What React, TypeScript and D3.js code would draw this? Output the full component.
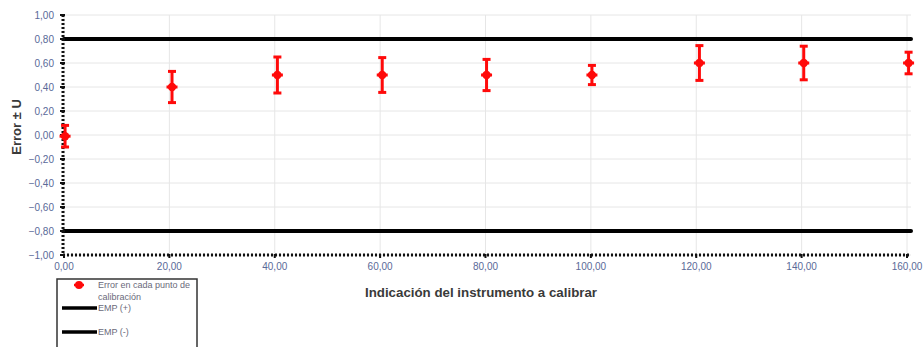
import React from "react";
import * as d3 from "d3";

// Calibration points: instrument reading, error and expanded uncertainty
const readings = [0.2, 20.5, 40.5, 60.4, 80.2, 100.2, 120.6, 140.4, 160.3];
const errors = [-0.01, 0.4, 0.5, 0.5, 0.5, 0.5, 0.6, 0.6, 0.6];
const uncertainties = [0.09, 0.13, 0.15, 0.145, 0.13, 0.08, 0.145, 0.14, 0.09];

// Maximum permissible error limits
const empPlus = 0.8;
const empMinus = -0.8;

const xTicks = [0, 20, 40, 60, 80, 100, 120, 140, 160];
const yTicks = [-1, -0.8, -0.6, -0.4, -0.2, 0, 0.2, 0.4, 0.6, 0.8, 1];

const legendLabels = ["Error en cada punto de", "calibración", "EMP (+)", "EMP (-)"];

const W = 924;
const H = 347;
const left = 64;
const right = 907;
const top = 15;
const bottom = 255;

const fmt = (v: number) => d3.format(".2f")(v).replace(".", ",");

export default function App() {
  const x = d3.scaleLinear().domain([0, 160]).range([left, right]);
  const y = d3.scaleLinear().domain([-1, 1]).range([bottom, top]);
  const red = "#ff0a0a";
  const tickColor = "#5a6a98";
  const font = "'Liberation Sans', Arial, sans-serif";
  const gridRight = 911;

  return (
    <svg
      width={W}
      height={H}
      style={{ position: "absolute", left: 0, top: 0, background: "#fff" }}
      fontFamily={font}
    >
      {/* grid */}
      {yTicks.map((t) => (
        <line key={"gy" + t} x1={left} x2={gridRight} y1={y(t)} y2={y(t)} stroke="#e6e6e6" strokeWidth={1} />
      ))}
      {xTicks.map((t) => (
        <line key={"gx" + t} x1={x(t)} x2={x(t)} y1={top} y2={bottom} stroke="#e6e6e6" strokeWidth={1} />
      ))}

      {/* EMP limits */}
      {[empPlus, empMinus].map((v) => (
        <line key={"emp" + v} x1={left} x2={gridRight} y1={y(v)} y2={y(v)} stroke="#000" strokeWidth={4} strokeLinecap="round" />
      ))}

      {/* dotted axes */}
      <line x1={left - 1} x2={left - 1} y1={top} y2={bottom} stroke="#111" strokeWidth={3} strokeDasharray="2,2" />
      <line x1={left - 1} x2={gridRight} y1={bottom} y2={bottom} stroke="#111" strokeWidth={3} strokeDasharray="2,2" />
      {yTicks.map((t) => (
        <line key={"ty" + t} x1={left - 4} x2={left + 1} y1={y(t)} y2={y(t)} stroke="#111" strokeWidth={2} />
      ))}
      {xTicks.map((t) => (
        <line key={"tx" + t} x1={x(t)} x2={x(t)} y1={bottom - 1} y2={bottom + 3} stroke="#111" strokeWidth={2} />
      ))}

      {/* tick labels */}
      {yTicks.map((t) => (
        <text key={"ly" + t} x={54} y={y(t)} dy="0.35em" textAnchor="end" fontSize={10} fill={tickColor}>
          {fmt(t)}
        </text>
      ))}
      {xTicks.map((t) => (
        <text key={"lx" + t} x={x(t)} y={270} textAnchor="middle" fontSize={10} fill={tickColor}>
          {fmt(t)}
        </text>
      ))}

      {/* axis titles */}
      <text
        transform={`translate(21,127) rotate(-90)`}
        textAnchor="middle"
        fontSize={13}
        fontWeight="bold"
        fill="#3a3a3a"
      >
        Error ± U
      </text>
      <text x={481} y={297} textAnchor="middle" fontSize={13.3} fontWeight="bold" fill="#3a3a3a">
        Indicación del instrumento a calibrar
      </text>

      {/* error bars */}
      {readings.map((r, i) => {
        const cx = x(r);
        const cy = y(errors[i]);
        const y1 = y(errors[i] + uncertainties[i]);
        const y2 = y(errors[i] - uncertainties[i]);
        return (
          <g key={"pt" + i} fill={red} stroke={red}>
            <line x1={cx} x2={cx} y1={y1} y2={y2} strokeWidth={3} />
            <line x1={cx - 4} x2={cx + 4} y1={y1} y2={y1} strokeWidth={3} />
            <line x1={cx - 4} x2={cx + 4} y1={y2} y2={y2} strokeWidth={3} />
            <circle cx={cx} cy={cy} r={4.2} stroke="none" />
            <line x1={cx - 5.5} x2={cx + 5.5} y1={cy} y2={cy} strokeWidth={3} />
          </g>
        );
      })}

      {/* legend */}
      <rect x={57} y={279} width={140} height={80} fill="#fff" stroke="#333" strokeWidth={1.5} />
      <circle cx={79} cy={285} r={4} fill={red} />
      <line x1={74} x2={84} y1={285} y2={285} stroke={red} strokeWidth={2.5} />
      <text x={98} y={285} dy="0.35em" fontSize={9} fill="#6a6a7a">{legendLabels[0]}</text>
      <text x={98} y={297} dy="0.35em" fontSize={9} fill="#6a6a7a">{legendLabels[1]}</text>
      <line x1={62} x2={97} y1={308} y2={308} stroke="#000" strokeWidth={3.5} />
      <text x={98} y={308} dy="0.35em" fontSize={9} fill="#6a6a7a">{legendLabels[2]}</text>
      <line x1={62} x2={97} y1={332} y2={332} stroke="#000" strokeWidth={3.5} />
      <text x={98} y={332} dy="0.35em" fontSize={9} fill="#6a6a7a">{legendLabels[3]}</text>
    </svg>
  );
}
